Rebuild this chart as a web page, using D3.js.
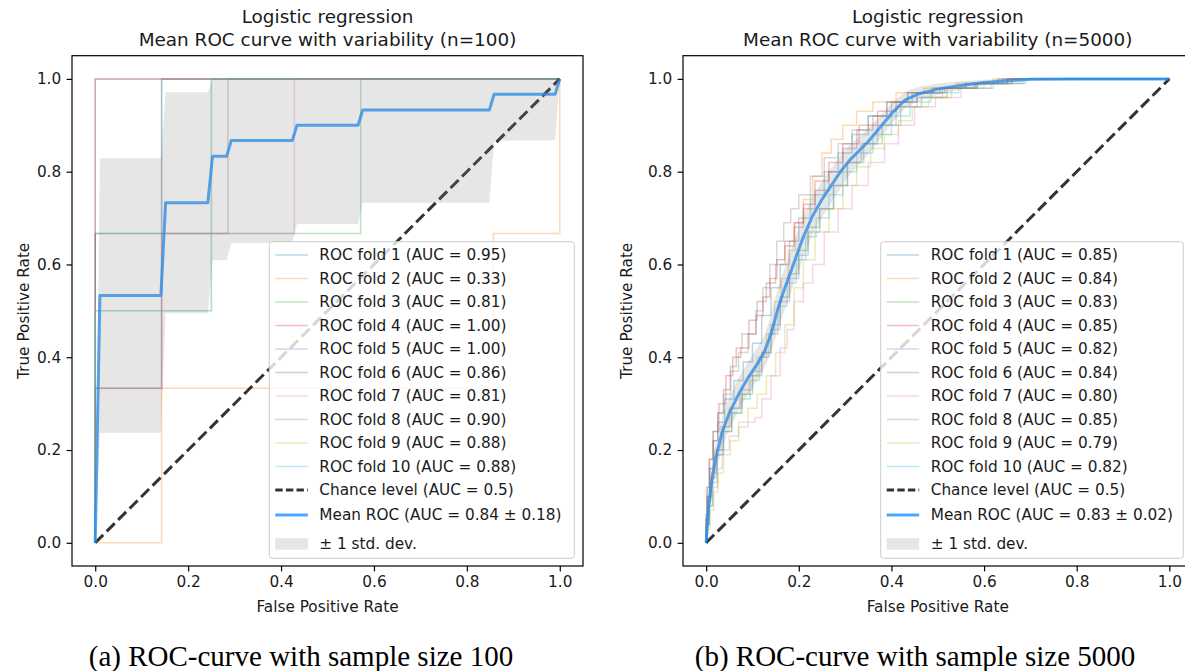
<!DOCTYPE html>
<html>
<head>
<meta charset="utf-8">
<script src="https://cdn.jsdelivr.net/npm/d3@7/dist/d3.min.js"></script>
<style>
  html, body { margin: 0; padding: 0; background: #fff; }
  svg { display: block; }
  text { font-family: "DejaVu Sans", sans-serif; fill: #1a1a1a; }
  .caption { font-family: "Liberation Serif", "DejaVu Serif", serif; fill: #000; }
</style>
</head>
<body>
<script>
// ---------- shared settings ----------
const foldColors = ["#1f77b4", "#ff7f0e", "#2ca02c", "#d62728", "#9467bd",
                    "#8c564b", "#e377c2", "#7f7f7f", "#bcbd22", "#17becf"];
const tickValues = [0.0, 0.2, 0.4, 0.6, 0.8, 1.0];

// ---------- n = 100 : per-fold ROC curves (fpr, tpr) ----------
const foldRoc100 = [
  [[0, 0], [0, 0.6667], [0.1429, 0.6667], [0.1429, 1], [1, 1]],
  [[0, 0], [0.1429, 0], [0.1429, 0.3333], [0.8571, 0.3333], [0.8571, 0.6667], [1, 0.6667], [1, 1]],
  [[0, 0], [0, 0.6667], [0.5714, 0.6667], [0.5714, 1], [1, 1]],
  [[0, 0], [0, 1], [1, 1]],
  [[0, 0], [0, 1], [1, 1]],
  [[0, 0], [0, 0.3333], [0.1429, 0.3333], [0.1429, 0.6667], [0.2857, 0.6667], [0.2857, 1], [1, 1]],
  [[0, 0], [0, 0.3333], [0.1429, 0.3333], [0.1429, 0.6667], [0.4286, 0.6667], [0.4286, 1], [1, 1]],
  [[0, 0], [0, 0.3333], [0.1429, 0.3333], [0.1429, 1], [1, 1]],
  [[0, 0], [0, 0.5], [0.25, 0.5], [0.25, 1], [1, 1]],
  [[0, 0], [0, 0.5], [0.25, 0.5], [0.25, 1], [1, 1]]
];
const foldAuc100 = ["0.95", "0.33", "0.81", "1.00", "1.00", "0.86", "0.81", "0.90", "0.88", "0.88"];
const meanFpr100 = [0, 0.0101, 0.1414, 0.1515, 0.2424, 0.2525, 0.2828, 0.2929,
                    0.4242, 0.4343, 0.5657, 0.5758, 0.8485, 0.8586, 0.9899, 1];
const meanTpr100 = [0, 0.533, 0.533, 0.733, 0.733, 0.833, 0.833, 0.867,
                    0.867, 0.9, 0.9, 0.933, 0.933, 0.967, 0.967, 1];
const stdTpr100  = [0, 0.296, 0.296, 0.238, 0.238, 0.224, 0.224, 0.221,
                    0.221, 0.213, 0.213, 0.2, 0.2, 0.1, 0.1, 0];
const meanLabel100 = "Mean ROC (AUC = 0.84 \u00b1 0.18)";

// ---------- n = 5000 : per-fold ROC curves (fpr, tpr) ----------
const foldRoc5000 = [
  [[0,0],[0,0.05],[0.004,0.1],[0.01,0.16],[0.02,0.22],[0.03,0.26],[0.05,0.31],[0.07,0.35],[0.09,0.39],[0.11,0.43],[0.13,0.49],[0.15,0.55],[0.17,0.6],[0.19,0.65],[0.21,0.7],[0.24,0.75],[0.27,0.8],[0.3,0.84],[0.33,0.88],[0.37,0.92],[0.41,0.95],[0.46,0.97],[0.52,0.98],[0.6,0.99],[0.66,1],[1,1]],
  [[0,0],[0,0.04],[0.006,0.09],[0.012,0.14],[0.025,0.2],[0.04,0.25],[0.06,0.29],[0.085,0.32],[0.1,0.36],[0.12,0.4],[0.14,0.45],[0.155,0.52],[0.17,0.57],[0.185,0.63],[0.2,0.69],[0.22,0.74],[0.24,0.79],[0.26,0.84],[0.28,0.87],[0.31,0.9],[0.34,0.93],[0.38,0.95],[0.44,0.97],[0.5,0.98],[0.58,0.99],[0.66,1],[1,1]],
  [[0,0],[0.004,0.04],[0.01,0.08],[0.018,0.13],[0.03,0.19],[0.045,0.24],[0.065,0.28],[0.09,0.32],[0.11,0.36],[0.13,0.41],[0.15,0.47],[0.17,0.53],[0.19,0.58],[0.21,0.63],[0.23,0.68],[0.26,0.72],[0.29,0.77],[0.32,0.82],[0.36,0.86],[0.4,0.9],[0.44,0.94],[0.49,0.96],[0.55,0.98],[0.62,0.99],[0.7,1],[1,1]],
  [[0,0],[0,0.06],[0.004,0.12],[0.01,0.18],[0.02,0.24],[0.035,0.3],[0.05,0.36],[0.065,0.4],[0.085,0.42],[0.1,0.45],[0.115,0.49],[0.13,0.53],[0.145,0.57],[0.16,0.61],[0.18,0.65],[0.2,0.69],[0.22,0.73],[0.25,0.78],[0.28,0.82],[0.31,0.86],[0.35,0.9],[0.39,0.93],[0.43,0.95],[0.48,0.97],[0.55,0.98],[0.62,0.99],[0.68,1],[1,1]],
  [[0,0],[0.003,0.05],[0.008,0.1],[0.016,0.15],[0.03,0.2],[0.045,0.25],[0.065,0.29],[0.09,0.33],[0.11,0.37],[0.13,0.41],[0.15,0.46],[0.17,0.52],[0.19,0.57],[0.21,0.62],[0.23,0.67],[0.26,0.72],[0.29,0.77],[0.32,0.82],[0.35,0.86],[0.39,0.9],[0.43,0.94],[0.48,0.96],[0.54,0.98],[0.62,0.99],[0.7,1],[1,1]],
  [[0,0],[0,0.05],[0.005,0.1],[0.012,0.16],[0.02,0.22],[0.03,0.28],[0.045,0.33],[0.06,0.38],[0.07,0.42],[0.085,0.45],[0.1,0.48],[0.12,0.52],[0.14,0.56],[0.16,0.6],[0.18,0.64],[0.2,0.68],[0.22,0.72],[0.25,0.76],[0.28,0.8],[0.31,0.85],[0.34,0.89],[0.38,0.92],[0.42,0.95],[0.47,0.97],[0.54,0.98],[0.62,0.99],[0.68,1],[1,1]],
  [[0,0],[0.004,0.04],[0.01,0.08],[0.02,0.12],[0.03,0.16],[0.04,0.2],[0.06,0.23],[0.08,0.25],[0.1,0.26],[0.11,0.27],[0.13,0.31],[0.15,0.36],[0.17,0.42],[0.18,0.46],[0.2,0.52],[0.22,0.56],[0.24,0.6],[0.27,0.67],[0.3,0.72],[0.33,0.77],[0.37,0.82],[0.4,0.86],[0.43,0.9],[0.47,0.94],[0.52,0.96],[0.58,0.98],[0.65,0.99],[0.72,1],[1,1]],
  [[0,0],[0,0.06],[0.004,0.12],[0.01,0.18],[0.02,0.24],[0.03,0.28],[0.045,0.32],[0.06,0.37],[0.08,0.41],[0.1,0.45],[0.115,0.5],[0.13,0.55],[0.145,0.6],[0.16,0.65],[0.175,0.69],[0.19,0.72],[0.21,0.75],[0.24,0.79],[0.27,0.83],[0.3,0.86],[0.33,0.89],[0.37,0.92],[0.41,0.95],[0.46,0.97],[0.52,0.98],[0.6,0.99],[0.68,1],[1,1]],
  [[0,0],[0.005,0.03],[0.012,0.07],[0.02,0.11],[0.03,0.15],[0.045,0.19],[0.06,0.22],[0.08,0.26],[0.1,0.29],[0.12,0.32],[0.14,0.36],[0.16,0.41],[0.18,0.47],[0.2,0.55],[0.22,0.61],[0.25,0.67],[0.28,0.72],[0.31,0.77],[0.34,0.81],[0.37,0.85],[0.4,0.88],[0.43,0.91],[0.46,0.94],[0.5,0.96],[0.56,0.98],[0.64,0.99],[0.72,1],[1,1]],
  [[0,0],[0.003,0.04],[0.008,0.09],[0.016,0.14],[0.028,0.19],[0.045,0.24],[0.065,0.28],[0.085,0.31],[0.105,0.35],[0.125,0.4],[0.145,0.45],[0.165,0.51],[0.185,0.56],[0.205,0.61],[0.225,0.66],[0.25,0.7],[0.28,0.75],[0.31,0.8],[0.34,0.84],[0.38,0.88],[0.42,0.92],[0.46,0.95],[0.51,0.97],[0.58,0.98],[0.66,0.99],[0.72,1],[1,1]]
];
const foldAuc5000 = ["0.85", "0.84", "0.83", "0.85", "0.82", "0.84", "0.80", "0.85", "0.79", "0.82"];
const meanFpr5000 = [0, 0.005, 0.01, 0.02, 0.035, 0.05, 0.07, 0.09, 0.11, 0.125, 0.14, 0.155, 0.17,
                     0.19, 0.21, 0.23, 0.25, 0.27, 0.29, 0.31, 0.33, 0.35, 0.375, 0.4, 0.43, 0.46,
                     0.5, 0.55, 0.6, 0.65, 0.7, 0.8, 0.9, 1];
const meanTpr5000 = [0, 0.07, 0.12, 0.18, 0.24, 0.28, 0.32, 0.355, 0.385, 0.41, 0.45, 0.505, 0.55,
                     0.605, 0.66, 0.705, 0.74, 0.77, 0.8, 0.825, 0.845, 0.865, 0.895, 0.925, 0.955, 0.968,
                     0.978, 0.986, 0.992, 0.996, 0.999, 1, 1, 1];
const stdTpr5000  = [0, 0.02, 0.025, 0.03, 0.035, 0.035, 0.035, 0.035, 0.035, 0.035, 0.04, 0.045, 0.045,
                     0.045, 0.045, 0.04, 0.04, 0.038, 0.035, 0.032, 0.03, 0.028, 0.025, 0.022, 0.018, 0.015,
                     0.012, 0.009, 0.006, 0.004, 0.002, 0.001, 0, 0];
const meanLabel5000 = "Mean ROC (AUC = 0.83 \u00b1 0.02)";

// ---------- drawing ----------
const svg = d3.select("body").append("svg").attr("width", 1185).attr("height", 671);
const FS = 15.3;         // 10 pt
const TITLE_FS = 18.4;   // 12 pt

function drawPanel(p) {
  const x = d3.scaleLinear().domain([-0.05, 1.05]).range([p.left, p.right]);
  const y = d3.scaleLinear().domain([-0.05, 1.05]).range([p.bottom, p.top]);
  const g = svg.append("g");

  const clipId = "clip-" + p.id;
  g.append("clipPath").attr("id", clipId).append("rect")
    .attr("x", p.left).attr("y", p.top)
    .attr("width", p.right - p.left).attr("height", p.bottom - p.top);
  const plot = g.append("g").attr("clip-path", `url(#${clipId})`);

  const line = d3.line().x(d => x(d[0])).y(d => y(d[1])).curve(p.curve);

  // individual folds
  p.folds.forEach((f, i) => {
    plot.append("path").attr("d", line(f))
      .attr("fill", "none").attr("stroke", foldColors[i])
      .attr("stroke-opacity", 0.3).attr("stroke-width", 1.5);
  });

  // chance diagonal
  plot.append("path").attr("d", d3.line().x(d => x(d[0])).y(d => y(d[1]))([[0, 0], [1, 1]]))
    .attr("fill", "none").attr("stroke", "#000").attr("stroke-opacity", 0.8)
    .attr("stroke-width", 3).attr("stroke-dasharray", "11.3,4.9");

  // mean curve
  const meanPts = p.meanFpr.map((v, i) => [v, p.meanTpr[i]]);
  plot.append("path").attr("d", d3.line().x(d => x(d[0])).y(d => y(d[1]))(meanPts))
    .attr("fill", "none").attr("stroke", "#1e90ff").attr("stroke-opacity", 0.8)
    .attr("stroke-width", 3).attr("stroke-linejoin", "round");

  // +/- 1 std band
  const band = p.meanFpr.map((v, i) => ({
    x: v,
    lo: Math.max(p.meanTpr[i] - p.stdTpr[i], 0),
    hi: Math.min(p.meanTpr[i] + p.stdTpr[i], 1)
  }));
  plot.append("path")
    .attr("d", d3.area().x(d => x(d.x)).y0(d => y(d.lo)).y1(d => y(d.hi))(band))
    .attr("fill", "#808080").attr("fill-opacity", 0.2);

  // axes
  const xAxis = g.append("g").attr("transform", `translate(0,${p.bottom})`)
    .call(d3.axisBottom(x).tickValues(tickValues).tickFormat(d3.format(".1f"))
      .tickSize(5.4).tickPadding(4.5).tickSizeOuter(0));
  const yAxis = g.append("g").attr("transform", `translate(${p.left},0)`)
    .call(d3.axisLeft(y).tickValues(tickValues).tickFormat(d3.format(".1f"))
      .tickSize(5.4).tickPadding(5.4).tickSizeOuter(0));
  [xAxis, yAxis].forEach(a => {
    a.select(".domain").remove();
    a.selectAll("line").attr("stroke", "#000").attr("stroke-width", 1.2);
    a.selectAll("text").attr("font-size", FS).attr("font-family", "DejaVu Sans").attr("fill", "#1a1a1a");
  });
  g.append("rect").attr("x", p.left).attr("y", p.top)
    .attr("width", p.right - p.left).attr("height", p.bottom - p.top)
    .attr("fill", "none").attr("stroke", "#000").attr("stroke-width", 1.2);

  // axis labels
  const cx = (p.left + p.right) / 2;
  g.append("text").attr("x", cx).attr("y", 612).attr("text-anchor", "middle")
    .attr("font-size", FS).text("False Positive Rate");
  g.append("text").attr("transform", `translate(${p.yLabelX},${(p.top + p.bottom) / 2}) rotate(-90)`)
    .attr("text-anchor", "middle").attr("font-size", FS).text("True Positive Rate");

  // title
  g.append("text").attr("x", cx).attr("y", 23).attr("text-anchor", "middle")
    .attr("font-size", TITLE_FS).text("Logistic regression");
  g.append("text").attr("x", cx).attr("y", 46).attr("text-anchor", "middle")
    .attr("font-size", TITLE_FS).text(p.subtitle);

  // legend
  const lg = g.append("g").attr("transform", `translate(${p.legendX},241.7)`);
  lg.append("rect").attr("width", p.legendW).attr("height", 316.6).attr("rx", 3)
    .attr("fill", "#fff").attr("fill-opacity", 0.8).attr("stroke", "#cccccc").attr("stroke-width", 1);
  const hx0 = 6, hx1 = 38.5, tx = 50;
  const rowY = i => 13.3 + 23.5 * i;
  p.aucs.forEach((a, i) => {
    lg.append("line").attr("x1", hx0).attr("x2", hx1).attr("y1", rowY(i)).attr("y2", rowY(i))
      .attr("stroke", foldColors[i]).attr("stroke-opacity", 0.3).attr("stroke-width", 1.5);
    lg.append("text").attr("x", tx).attr("y", rowY(i) + 5.5).attr("font-size", FS)
      .text(`ROC fold ${i + 1} (AUC = ${a})`);
  });
  lg.append("line").attr("x1", hx0).attr("x2", hx1).attr("y1", rowY(10)).attr("y2", rowY(10))
    .attr("stroke", "#000").attr("stroke-opacity", 0.8).attr("stroke-width", 3)
    .attr("stroke-dasharray", "7.4,3.2");
  lg.append("text").attr("x", tx).attr("y", rowY(10) + 5.5).attr("font-size", FS)
    .text("Chance level (AUC = 0.5)");
  lg.append("line").attr("x1", hx0).attr("x2", hx1).attr("y1", 273.3).attr("y2", 273.3)
    .attr("stroke", "#1e90ff").attr("stroke-opacity", 0.8).attr("stroke-width", 3);
  lg.append("text").attr("x", tx).attr("y", 273.3 + 5.5).attr("font-size", FS).text(p.meanLabel);
  lg.append("rect").attr("x", hx0).attr("y", 296.5).attr("width", hx1 - hx0).attr("height", 11.5)
    .attr("fill", "#808080").attr("fill-opacity", 0.2);
  lg.append("text").attr("x", tx).attr("y", 302.3 + 5.5).attr("font-size", FS).text("\u00b1 1 std. dev.");

  // caption
  svg.append("text").attr("class", "caption").attr("x", p.captionX).attr("y", 666)
    .attr("text-anchor", "middle").attr("font-size", 29).text(p.caption);
}

drawPanel({
  id: "a", left: 72, right: 583, top: 55.7, bottom: 566,
  folds: foldRoc100, aucs: foldAuc100, curve: d3.curveLinear,
  meanFpr: meanFpr100, meanTpr: meanTpr100, stdTpr: stdTpr100, meanLabel: meanLabel100,
  subtitle: "Mean ROC curve with variability (n=100)",
  yLabelX: 29, legendX: 269.3, legendW: 305,
  caption: "(a) ROC-curve with sample size 100", captionX: 301
});
drawPanel({
  id: "b", left: 683, right: 1192.5, top: 55.7, bottom: 566,
  folds: foldRoc5000, aucs: foldAuc5000, curve: d3.curveStep,
  meanFpr: meanFpr5000, meanTpr: meanTpr5000, stdTpr: stdTpr5000, meanLabel: meanLabel5000,
  subtitle: "Mean ROC curve with variability (n=5000)",
  yLabelX: 632, legendX: 880.7, legendW: 302.6,
  caption: "(b) ROC-curve with sample size 5000", captionX: 915
});
</script>
</body>
</html>
